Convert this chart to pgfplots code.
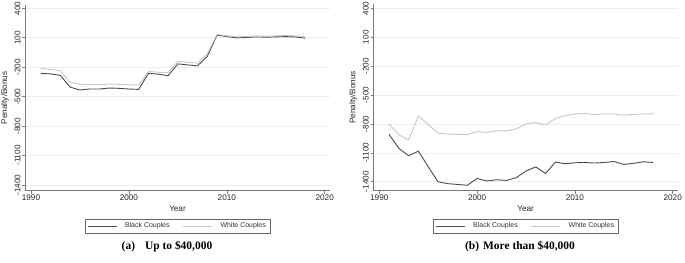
\documentclass[border=0pt]{standalone}
\usepackage{pgfplots}
\usepackage{pgfplotstable}
\pgfplotsset{compat=1.18}
\usepackage{fontspec}
\setmainfont{Liberation Serif}
\setsansfont{Liberation Sans}

\definecolor{blk}{HTML}{4A4A4A}
\definecolor{wht}{HTML}{C6C6C6}
\definecolor{axgray}{HTML}{7A7A7A}
\definecolor{gridgray}{HTML}{EEEEEE}

% Panel (a): Up to $40,000
\pgfplotstableread{
year black white
1991 -262 -212
1992 -268 -222
1993 -283 -236
1994 -403 -355
1995 -432 -372
1996 -422 -376
1997 -422 -378
1998 -412 -371
1999 -415 -375
2000 -422 -378
2001 -426 -382
2002 -262 -244
2003 -271 -251
2004 -286 -255
2005 -166 -140
2006 -176 -149
2007 -186 -158
2008 -90 -65
2009 127 134
2010 113 120
2011 99 110
2012 103 113
2013 109 117
2014 106 117
2015 109 120
2016 112 124
2017 108 120
2018 96 110
}\tablea

% Panel (b): More than $40,000
\pgfplotstableread{
year black white
1991 -908 -800
1992 -1053 -912
1993 -1130 -965
1994 -1083 -716
1995 -1243 -805
1996 -1400 -894
1997 -1420 -905
1998 -1428 -908
1999 -1437 -912
2000 -1366 -880
2001 -1392 -887
2002 -1379 -870
2003 -1386 -872
2004 -1358 -852
2005 -1288 -800
2006 -1246 -785
2007 -1314 -811
2008 -1197 -744
2009 -1213 -713
2010 -1203 -697
2011 -1200 -691
2012 -1206 -703
2013 -1200 -697
2014 -1190 -697
2015 -1220 -710
2016 -1209 -701
2017 -1193 -697
2018 -1200 -693
}\tableb

\newcommand{\tfont}{\sffamily\fontsize{8.2}{9}\selectfont}

\pgfplotsset{
  statastyle/.style={
    scale only axis,
    anchor=south west,
    xmin=1989.39, xmax=2020.54,
    axis x line*=bottom,
    axis y line*=left,
    axis line style={axgray, line width=0.6bp, -},
    tick style={axgray, line width=0.6bp},
    tick align=outside,
    major tick length=2.8bp,
    xtick={1990,2000,2010,2020},
    xticklabels={\textsf{1990},\textsf{2000},\textsf{2010},\textsf{2020}},
    ytick={-1400,-1100,-800,-500,-200,100,400},
    yticklabels={\textsf{-1400},\textsf{-1100},\textsf{-800},\textsf{-500},\textsf{-200},\textsf{100},\textsf{400}},
    ymajorgrids,
    major grid style={gridgray, line width=0.6bp},
    tick label style={font=\tfont, text=black!85},
    yticklabel style={rotate=90, anchor=south, inner sep=1.5bp},
    xticklabel style={inner sep=1.5bp},
    xlabel={\textsf{Year}},
    ylabel={\textsf{Penalty/Bonus}},
    xlabel style={font=\tfont, text=black!85, at={(axis description cs:0.5,0)}, anchor=center, yshift=-18.5bp},
    ylabel style={font=\tfont, text=black!85, at={(axis description cs:0,0.5)}, anchor=center, yshift=20bp},
    legend columns=2,
    legend cell align=left,
    legend image code/.code={\draw[##1] (0bp,0bp) -- (29bp,0bp);},
    legend style={
      at={(axis description cs:0.5,0)}, anchor=north, yshift=-28.3bp,
      draw=black!60, line width=0.5bp,
      font=\sffamily\fontsize{7}{8}\selectfont,
      text=black!80,
      inner xsep=2bp, inner ysep=1bp,
      nodes={inner xsep=2bp, inner ysep=2.6bp},
      /tikz/every odd column/.append style={column sep=6bp},
      /tikz/every even column/.append style={column sep=11bp},
    },
    clip=false,
  }
}

\begin{document}
\begin{tikzpicture}[x=1bp,y=1bp]
\useasboundingbox (0,0) rectangle (685,262);

\begin{axis}[statastyle,
  at={(25bp,71.3bp)},
  width=305bp, height=185.7bp,
  ymin=-1458, ymax=434]
\addplot[blk, line width=0.9bp] table[x=year, y=black] {\tablea};
\addlegendentry{Black Couples}
\addplot[wht, line width=0.9bp] table[x=year, y=white] {\tablea};
\addlegendentry{White Couples}
\end{axis}

\begin{axis}[statastyle,
  at={(373.3bp,71.3bp)},
  width=304.7bp, height=186.7bp,
  ymin=-1493, ymax=445]
\addplot[blk, line width=0.9bp] table[x=year, y=black] {\tableb};
\addlegendentry{Black Couples}
\addplot[wht, line width=0.9bp] table[x=year, y=white] {\tableb};
\addlegendentry{White Couples}
\end{axis}

\node[anchor=base, font=\rmfamily\bfseries\fontsize{11.5}{13}\selectfont] at (167,12.5) {(a)\hspace{10bp}Up to \$40,000};
\node[anchor=base, font=\rmfamily\bfseries\fontsize{11.5}{13}\selectfont] at (520,12.5) {(b)\hspace{4bp}More than \$40,000};
\end{tikzpicture}
\end{document}
